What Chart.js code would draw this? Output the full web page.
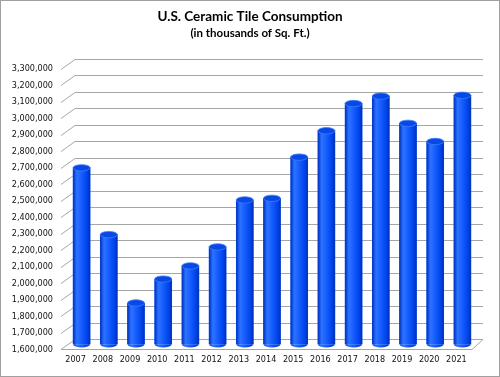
<!DOCTYPE html>
<html>
<head>
<meta charset="utf-8">
<script src="https://cdn.jsdelivr.net/npm/chart.js@4/dist/chart.umd.min.js"></script>
<style>
  body { margin: 0; background: #fff; }
  #wrap { width: 500px; height: 377px; }
</style>
</head>
<body>
<div id="wrap"><canvas id="tileChart" width="500" height="377"></canvas></div>
<script>
const years = ['2007', '2008', '2009', '2010', '2011', '2012', '2013', '2014',
               '2015', '2016', '2017', '2018', '2019', '2020', '2021'];
const consumption = [2670000, 2265000, 1850000, 1995000, 2075000, 2190000, 2475000, 2485000,
                     2735000, 2895000, 3060000, 3105000, 2940000, 2830000, 3110000];
const yMin = 1600000;
const yMax = 3300000;
const yStep = 100000;

const tickFont = { family: "'DejaVu Sans Condensed', 'DejaVu Sans', sans-serif", size: 9 };
const barWidth = 17;

function barGradient(ctx) {
    let chart = ctx.chart;
    let xs = chart.scales.x;
    if (!xs || ctx.dataIndex === undefined) return '#0a4cf0';
    let cx = xs.getPixelForValue(ctx.dataIndex);
    if (!isFinite(cx)) return '#0a4cf0';
    let g = chart.ctx.createLinearGradient(cx - barWidth / 2, 0, cx + barWidth / 2, 0);
    g.addColorStop(0, '#0030c0');
    g.addColorStop(0.22, '#2c74ff');
    g.addColorStop(0.45, '#1a60ff');
    g.addColorStop(0.8, '#0046ee');
    g.addColorStop(1, '#0030b4');
    return g;
}

// back wall, floor and the little diagonals from the tick labels
const wallPlugin = {
    id: 'wall',
    beforeDatasetsDraw(chart) {
        let c = chart.ctx;
        let ys = chart.scales.y;
        let a = chart.chartArea;
        let frontL = a.left - 7, backL = a.left + 7, backR = a.right + 7, frontR = a.right - 4;
        c.save();
        c.strokeStyle = '#a6a6a6';
        c.lineWidth = 1;
        for (let v = yMin; v <= yMax; v += yStep) {
            let y = ys.getPixelForValue(v);
            let yb = Math.round(y - 5) + 0.5, yf = Math.round(y + 5) + 0.5;
            c.beginPath();
            c.moveTo(frontL, yf);
            c.lineTo(backL, yb);
            c.lineTo(backR, yb);
            c.stroke();
        }
        let y0 = ys.getPixelForValue(yMin);
        c.beginPath();
        c.moveTo(frontL, Math.round(y0 + 5) + 0.5);
        c.lineTo(frontR, Math.round(y0 + 5) + 0.5);
        c.lineTo(backR, Math.round(y0 - 5) + 0.5);
        c.stroke();
        c.restore();
    },
    afterDatasetsDraw(chart) {
        let c = chart.ctx;
        let meta = chart.getDatasetMeta(0);
        c.save();
        meta.data.forEach((bar, i) => {
            let rx = bar.width / 2, ry = 3.2;
            // redraw the body with the gradient, then rounded bottom and top face
            c.fillStyle = barGradient({ chart, dataIndex: i });
            c.fillRect(bar.x - rx, bar.y, bar.width, bar.base - bar.y);
            c.beginPath();
            c.ellipse(bar.x, bar.base, rx, ry, 0, 0, Math.PI);
            c.fill();
            c.beginPath();
            c.ellipse(bar.x, bar.y, rx, ry, 0, 0, Math.PI * 2);
            c.fillStyle = '#0a48e6';
            c.fill();
            c.strokeStyle = '#3b7dff';
            c.lineWidth = 0.8;
            c.stroke();
        });
        c.restore();
        // outer border of the picture
        c.save();
        c.strokeStyle = '#a0a0a0';
        c.lineWidth = 1;
        c.strokeRect(0.5, 0.5, chart.width - 1, chart.height - 1);
        c.restore();
    }
};

new Chart(document.getElementById('tileChart'), {
    type: 'bar',
    data: {
        labels: years,
        datasets: [{
            data: consumption,
            backgroundColor: '#0a4cf0',
            borderWidth: 0,
            barThickness: barWidth,
            base: yMin
        }]
    },
    options: {
        responsive: false,
        animation: false,
        devicePixelRatio: 1,
        layout: { padding: { left: 0, right: 0, top: 0, bottom: 2 } },
        plugins: {
            legend: { display: false },
            tooltip: { enabled: false },
            title: {
                display: true,
                text: 'U.S. Ceramic Tile Consumption',
                color: '#000',
                font: { family: 'Lato, sans-serif', size: 13.5, weight: 'bold', lineHeight: 1.2 },
                padding: { top: 9, bottom: 0 }
            },
            subtitle: {
                display: true,
                text: '(in thousands of Sq. Ft.)',
                color: '#000',
                font: { family: 'Lato, sans-serif', size: 11.5, weight: 'bold', lineHeight: 1.2 },
                padding: { top: 1, bottom: 24 }
            }
        },
        scales: {
            x: {
                grid: { display: false, drawTicks: false },
                border: { display: false },
                ticks: { font: tickFont, color: '#111', padding: 10, labelOffset: -6, maxRotation: 0 }
            },
            y: {
                min: yMin,
                max: yMax,
                grid: { display: false, drawTicks: false },
                border: { display: false },
                afterFit(axis) { axis.width = 68; },
                ticks: {
                    stepSize: yStep,
                    font: tickFont,
                    color: '#111',
                    padding: 15,
                    labelOffset: 5,
                    callback: v => v.toLocaleString('en-US')
                }
            },
            // empty right-hand axis that only keeps room for the depth of the wall
            yRight: {
                position: 'right',
                grid: { display: false, drawTicks: false },
                border: { display: false },
                ticks: { display: false },
                afterFit(axis) { axis.width = 24; }
            }
        }
    },
    plugins: [wallPlugin]
});
</script>
</body>
</html>
